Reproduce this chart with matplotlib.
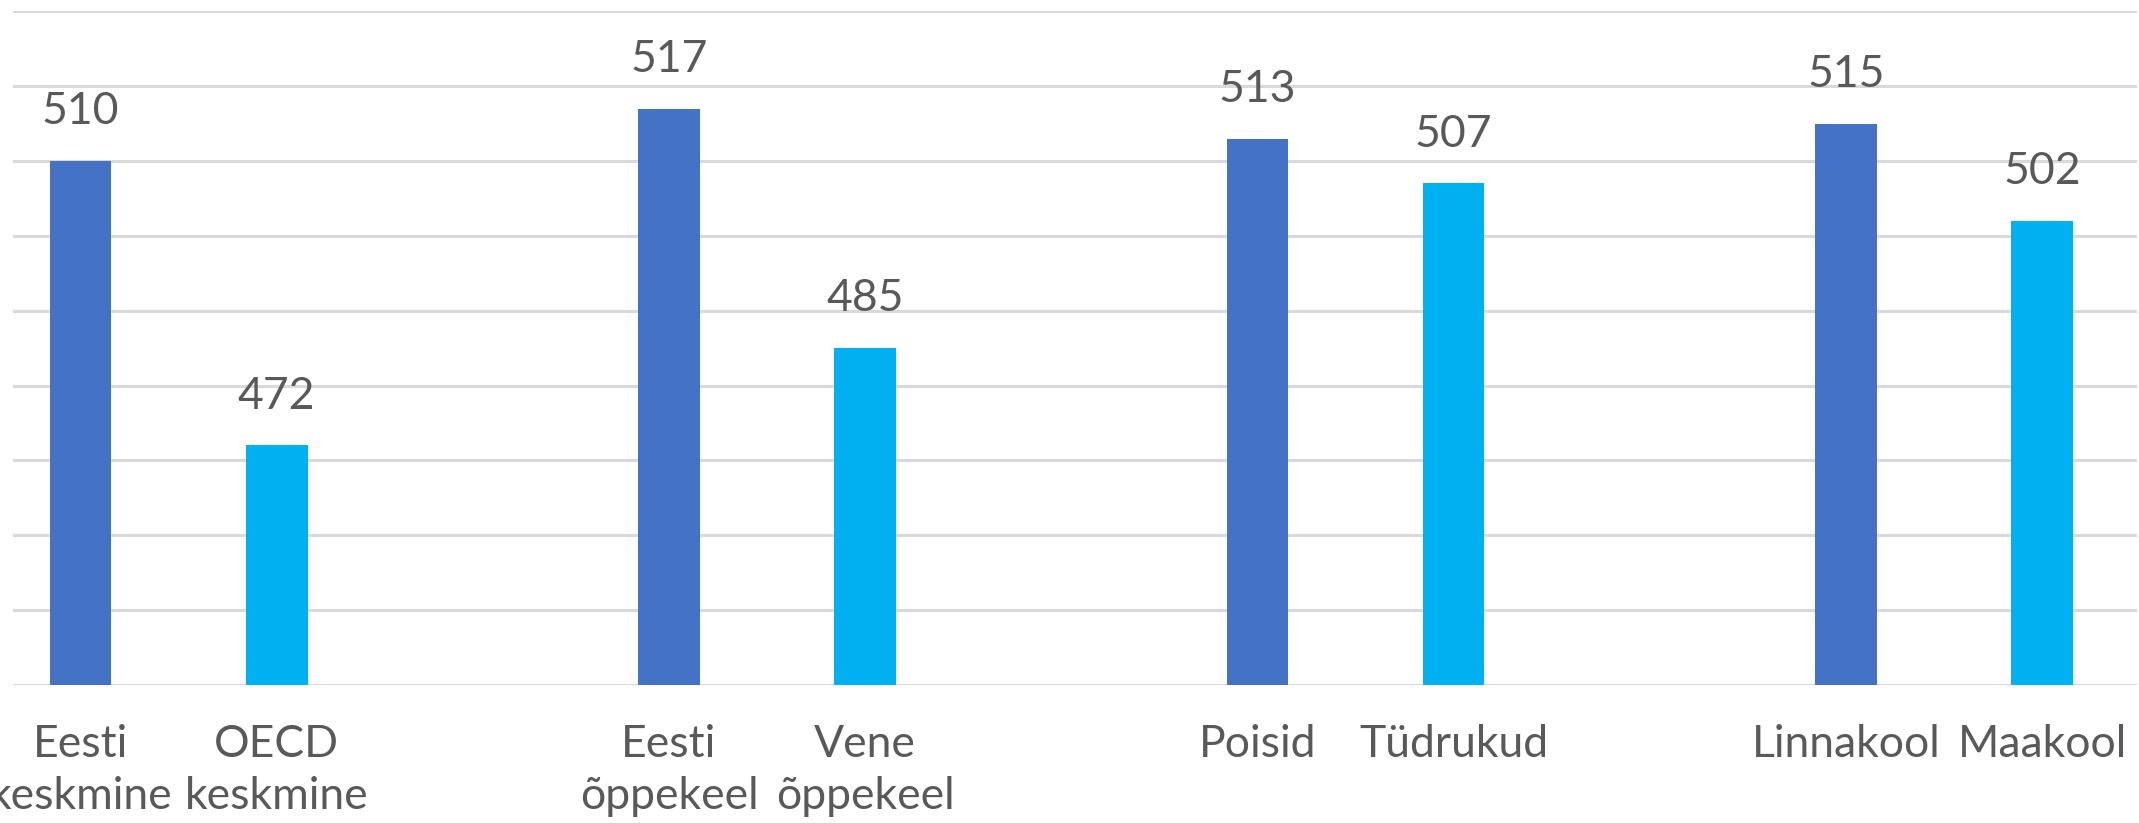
import matplotlib
matplotlib.use("Agg")
import matplotlib.pyplot as plt
import numpy as np

labels = ["Eesti\nkeskmine", "OECD\nkeskmine", "Eesti\nõppekeel", "Vene\nõppekeel",
          "Poisid", "Tüdrukud", "Linnakool", "Maakool"]
values = [510, 472, 517, 485, 513, 507, 515, 502]
bar_colors = ["#4472C4", "#00B0F0"] * 4
y_min, y_max, y_step = 440, 530, 10

plt.rcParams['font.family'] = ['Lato', 'DejaVu Sans']
text_color = "#595959"

fig = plt.figure(figsize=(21.39, 8.23), dpi=100)
W, H = 2139, 823
ax = fig.add_axes([13 / W, 138 / H, (2137 - 13) / W, (811.7 - 138) / H])

# two bars per group, one empty slot between groups
x = np.array([(i // 2) * 3 + (i % 2) for i in range(len(values))])
ax.bar(x, np.array(values) - y_min, bottom=y_min, width=0.315, color=bar_colors, zorder=3)

for xi, v in zip(x, values):
    ax.annotate(f"{v}", (xi, v), xytext=(0, 26.5), textcoords="offset points",
                ha="center", va="baseline", fontsize=32, color=text_color, zorder=4)

ax.set_ylim(y_min, y_max)
ax.set_xlim(-0.344, 10.484)
ax.set_yticks(np.arange(y_min, y_max + 1, y_step))
ax.yaxis.grid(True, color="#D9D9D9", linewidth=2.2, zorder=0)
ax.set_axisbelow(True)
ax.tick_params(axis="y", left=False, labelleft=False)
ax.set_xticks(x)
ax.set_xticklabels(labels, fontsize=32, color=text_color, linespacing=1.33)
ax.tick_params(axis="x", length=0, pad=28)
for s in ax.spines.values():
    s.set_visible(False)

fig.savefig("out.png", dpi=100)
